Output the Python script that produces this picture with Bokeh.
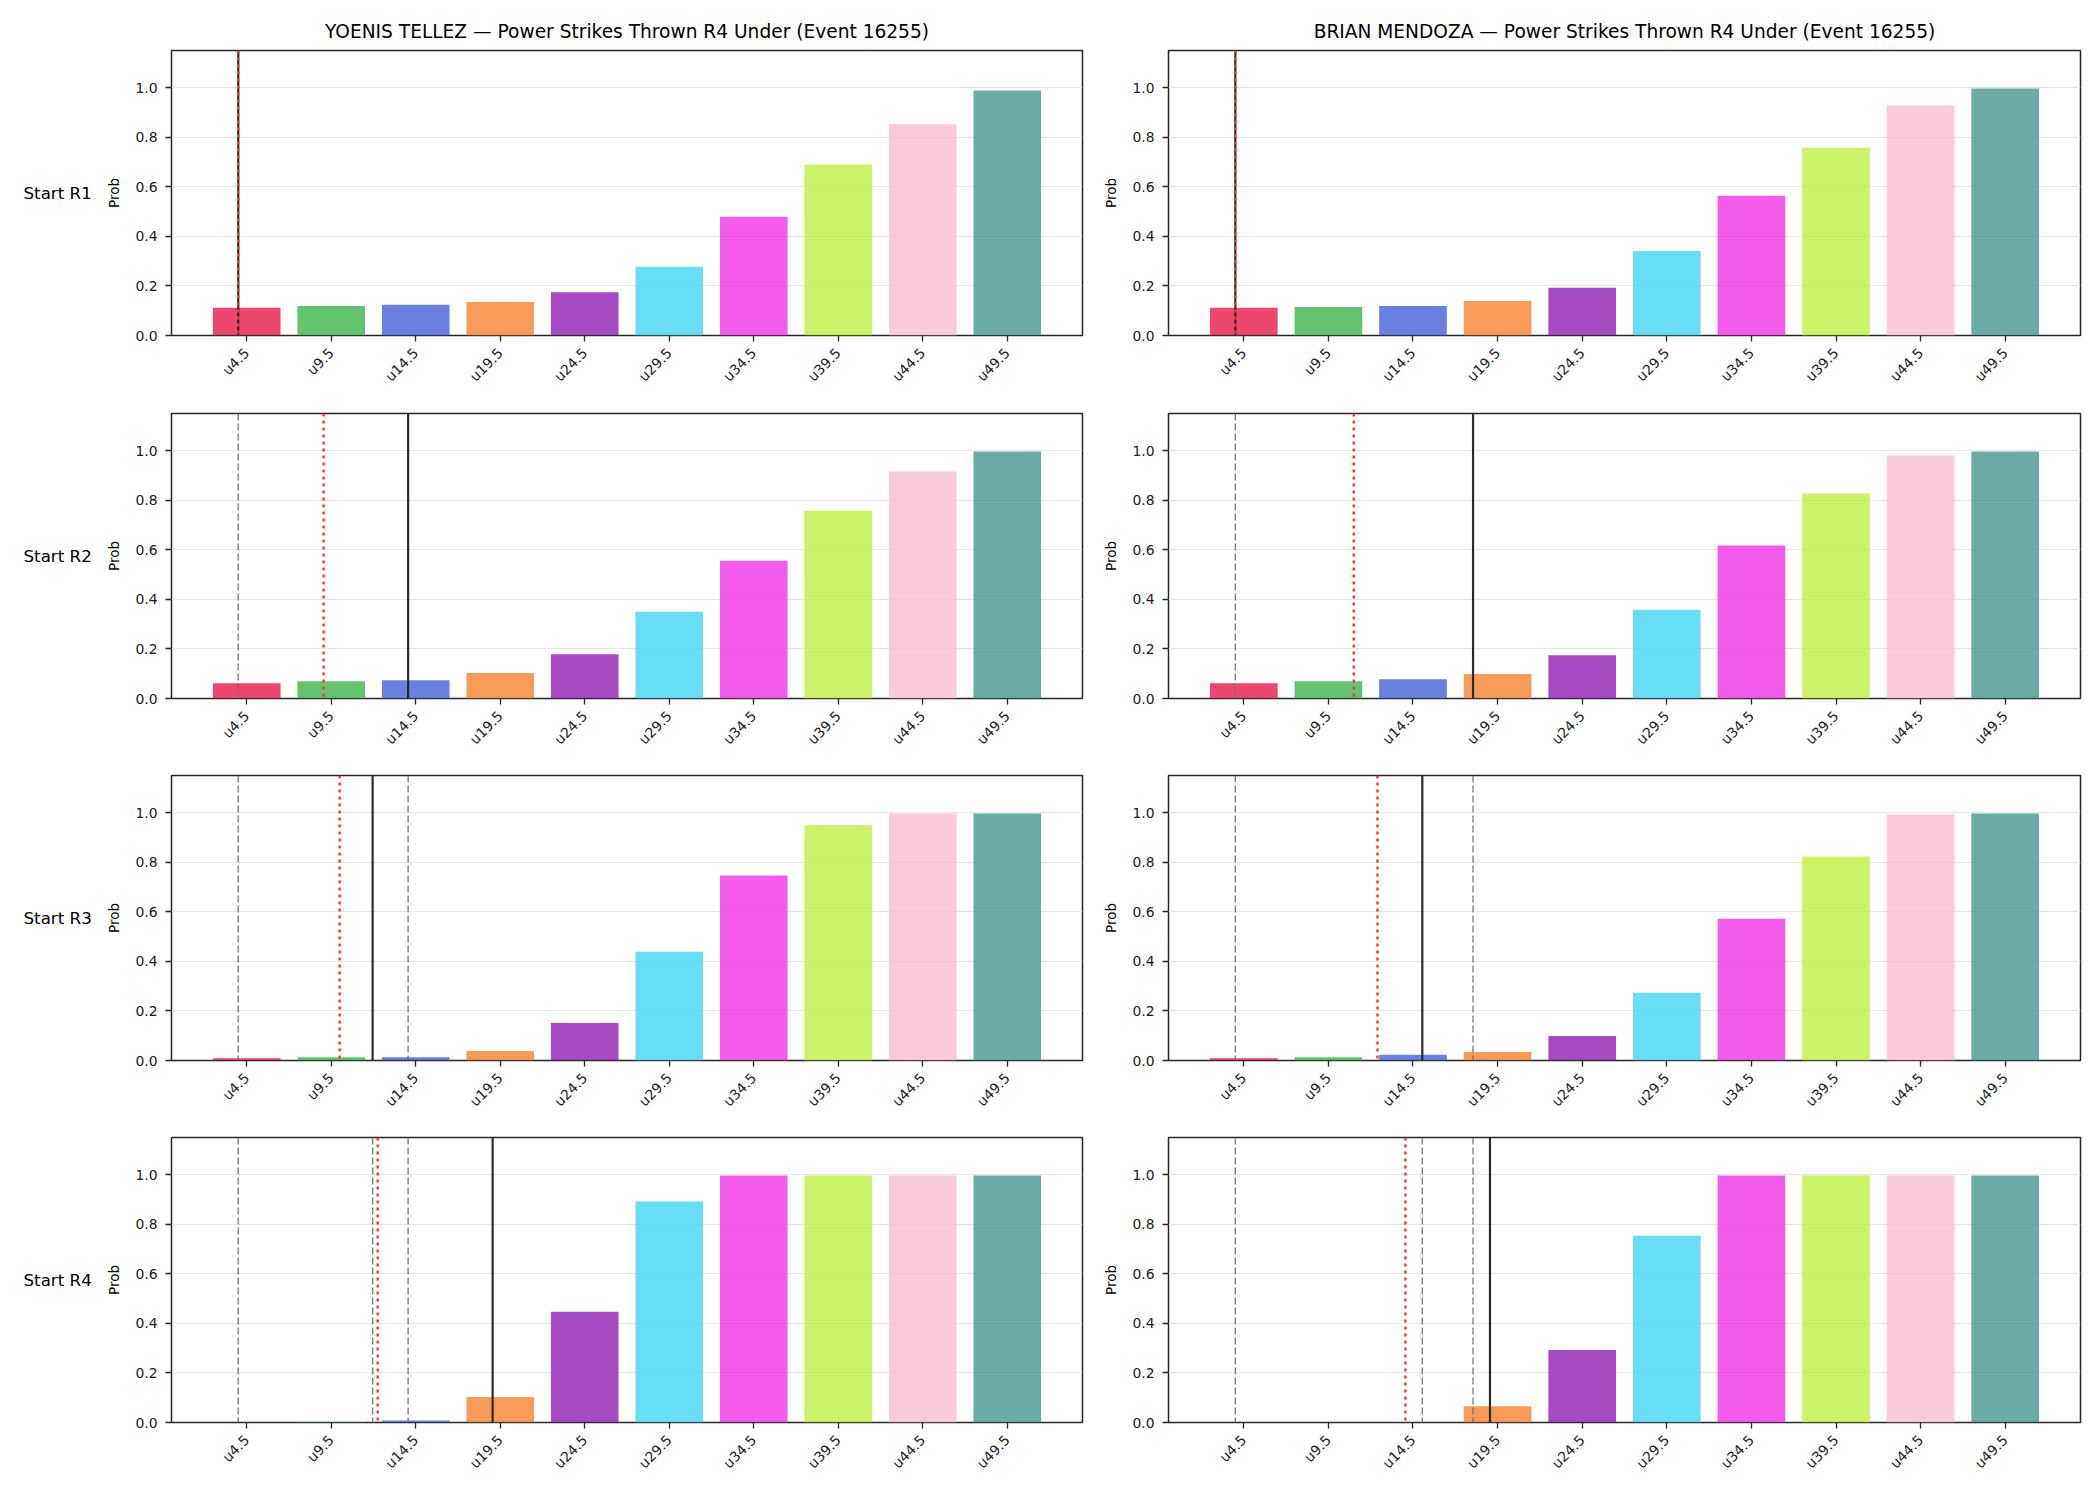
import math
from bokeh.plotting import figure
from bokeh.layouts import column, row
from bokeh.models import Range1d, FixedTicker, Span, ColumnDataSource, PrintfTickFormatter
from bokeh.core.properties import value
from bokeh.embed import file_html
from bokeh.resources import INLINE

# ---------------- data ----------------
thresholds = ["u4.5", "u9.5", "u14.5", "u19.5", "u24.5", "u29.5", "u34.5", "u39.5", "u44.5", "u49.5"]
bar_colors = ["#e6194b", "#3cb44b", "#4363d8", "#f58231", "#911eb4",
              "#42d4f4", "#f032e6", "#bfef45", "#fabed4", "#469990"]
row_labels = ["Start R1", "Start R2", "Start R3", "Start R4"]
fighters = ["YOENIS TELLEZ", "BRIAN MENDOZA"]
title_suffix = " \u2014 Power Strikes Thrown R4 Under (Event 16255)"

tellez_r1 = [0.112, 0.119, 0.124, 0.135, 0.175, 0.277, 0.479, 0.690, 0.852, 0.989]
tellez_r2 = [0.062, 0.070, 0.074, 0.103, 0.179, 0.350, 0.556, 0.758, 0.916, 0.997]
tellez_r3 = [0.009, 0.013, 0.013, 0.038, 0.151, 0.439, 0.746, 0.949, 0.997, 0.997]
tellez_r4 = [0.000, 0.002, 0.008, 0.103, 0.447, 0.892, 0.997, 0.997, 0.997, 0.997]

mendoza_r1 = [0.112, 0.115, 0.119, 0.139, 0.193, 0.341, 0.564, 0.758, 0.928, 0.997]
mendoza_r2 = [0.062, 0.070, 0.078, 0.099, 0.175, 0.358, 0.617, 0.827, 0.981, 0.997]
mendoza_r3 = [0.009, 0.013, 0.023, 0.034, 0.099, 0.273, 0.572, 0.823, 0.993, 0.997]
mendoza_r4 = [0.000, 0.000, 0.001, 0.066, 0.293, 0.754, 0.997, 0.997, 0.997, 0.997]

# marker positions on the category axis (fractional index)
tellez_black = [-0.1, 1.91, 1.49, 2.91]
tellez_red = [-0.1, 0.91, 1.10, 1.55]
mendoza_black = [-0.1, 2.71, 2.11, 2.91]
mendoza_red = [-0.1, 1.30, 1.58, 1.91]

tellez_vals = [tellez_r1, tellez_r2, tellez_r3, tellez_r4]
mendoza_vals = [mendoza_r1, mendoza_r2, mendoza_r3, mendoza_r4]

y_ticks = [0.0, 0.2, 0.4, 0.6, 0.8, 1.0]

# ---------------- layout ----------------
FONT = "DejaVu Sans"
FRAME_H = 285
tops = [50, 16, 16, 16]
bottoms = [62, 61, 61, 78]


def panel(vals, black, red, grays, title, top, bottom, b_left, b_right, fw):
    p = figure(frame_width=fw, frame_height=FRAME_H,
               x_range=Range1d(-0.89, 9.89), y_range=Range1d(0, 1.15),
               min_border_left=b_left, min_border_right=b_right,
               min_border_top=top, min_border_bottom=bottom,
               output_backend="svg", toolbar_location=None,
               title=title)
    p.background_fill_color = "white"
    p.border_fill_color = "white"
    p.outline_line_color = "#262626"
    p.outline_line_width = 1.5
    if title:
        p.title.text_font = FONT
        p.title.text_font_size = "18.6px"
        p.title.text_font_style = "normal"
        p.title.text_color = "#000000"
        p.title.align = "center"
        p.title.standoff = 17

    src = ColumnDataSource(dict(x=list(range(len(thresholds))), top=vals, color=bar_colors))
    p.vbar(x="x", top="top", width=0.8, bottom=0, source=src,
           fill_color="color", fill_alpha=0.8, line_color=None)

    for g in grays:
        p.add_layout(Span(location=g, dimension="height", line_color="#707070",
                          line_width=1.4, line_dash="7 3", line_alpha=0.9))
    p.add_layout(Span(location=black, dimension="height", line_color="#2b2b2b",
                      line_width=2.2))
    p.add_layout(Span(location=red, dimension="height", line_color="#ff3333",
                      line_width=2.4, line_dash="3 4"))

    p.xgrid.visible = False
    p.ygrid.ticker = FixedTicker(ticks=y_ticks)
    p.ygrid.grid_line_color = "#e6e6e6"
    p.ygrid.grid_line_width = 1

    xa = p.xaxis[0]
    xa.ticker = FixedTicker(ticks=list(range(len(thresholds))))
    xa.major_label_overrides = {i: t for i, t in enumerate(thresholds)}
    xa.major_label_orientation = math.pi / 4
    ya = p.yaxis[0]
    ya.ticker = FixedTicker(ticks=y_ticks)
    ya.formatter = PrintfTickFormatter(format="%.1f")
    ya.axis_label = "Prob"
    ya.axis_label_text_font = FONT
    ya.axis_label_text_font_size = "13.5px"
    ya.axis_label_text_font_style = "normal"
    ya.axis_label_text_color = "#000000"
    ya.axis_label_standoff = 10
    for ax in (xa, ya):
        ax.axis_line_color = None
        ax.major_tick_line_color = "#262626"
        ax.major_tick_line_width = 1.3
        ax.major_tick_in = 0
        ax.major_tick_out = 6
        ax.minor_tick_line_color = None
        ax.major_label_text_font = FONT
        ax.major_label_text_font_size = "13.9px"
        ax.major_label_text_color = "#1a1a1a"
    xa.major_label_standoff = 9
    ya.major_label_standoff = 8
    return p


rows = []
for r in range(4):
    # row-label strip: its frame is aligned with the panels' frames by the layout
    lab = figure(frame_width=100, frame_height=FRAME_H, x_range=Range1d(0, 100), y_range=Range1d(0, 1),
                 min_border_left=0, min_border_right=0,
                 min_border_top=tops[r], min_border_bottom=bottoms[r],
                 output_backend="svg", toolbar_location=None,
                 x_axis_location=None, y_axis_location=None, title=None)
    lab.grid.visible = False
    lab.outline_line_color = None
    lab.background_fill_color = "white"
    lab.border_fill_color = "white"
    lab.text(x=[23], y=[0.5], text=[row_labels[r]],
             text_font=value(FONT), text_font_size="16.7px", text_color="#000000",
             text_align="left", text_baseline="middle")

    t_left = fighters[0] + title_suffix if r == 0 else None
    t_right = fighters[1] + title_suffix if r == 0 else None
    left = panel(tellez_vals[r], tellez_black[r], tellez_red[r], tellez_black[:r],
                 t_left, tops[r], bottoms[r], 71, 18, 911)
    right = panel(mendoza_vals[r], mendoza_black[r], mendoza_red[r], mendoza_black[:r],
                  t_right, tops[r], bottoms[r], 66, 22, 912)
    rows.append(row(lab, left, right, spacing=0))

layout = column(*rows, spacing=0)
open("out.html", "w").write(file_html(layout, INLINE))
